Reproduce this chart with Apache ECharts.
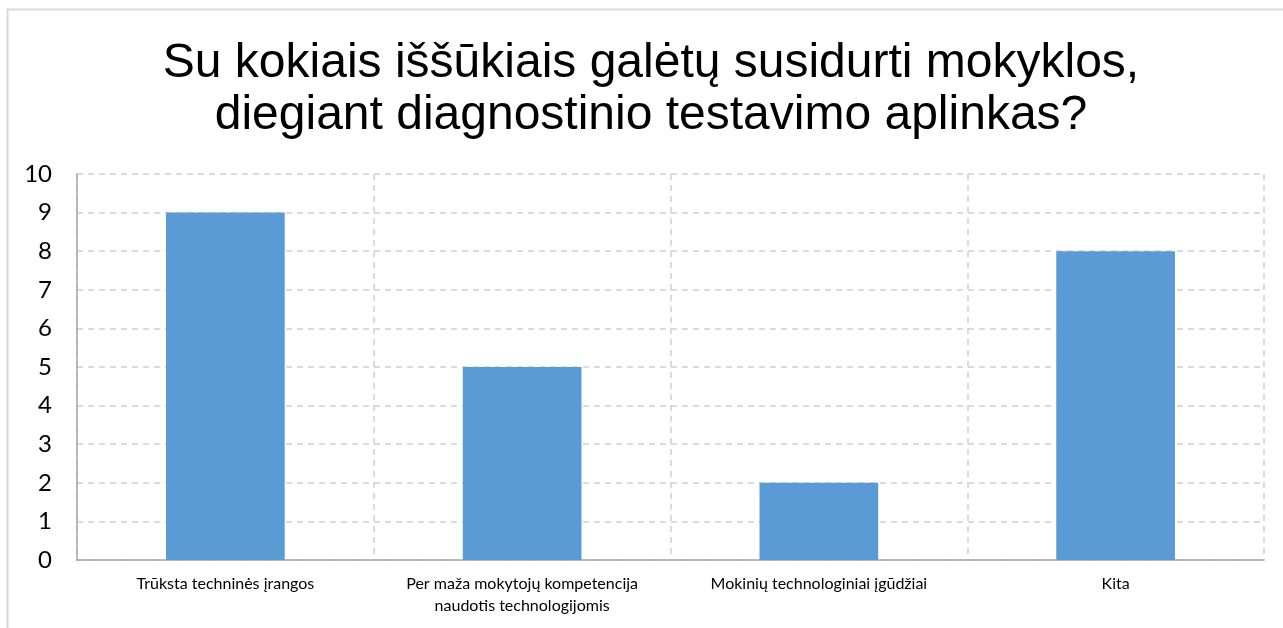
<!DOCTYPE html>
<html>
<head>
<meta charset="utf-8">
<script src="https://cdn.jsdelivr.net/npm/echarts@6/dist/echarts.min.js"></script>
<style>
  html, body { margin: 0; padding: 0; background: #fff; }
  #chart { width: 1283px; height: 628px; }
</style>
</head>
<body>
<div id="chart"></div>
<script>
const titleText = 'Su kokiais iššūkiais galėtų susidurti mokyklos,\ndiegiant diagnostinio testavimo aplinkas?';
const categories = [
  'Trūksta techninės įrangos',
  'Per maža mokytojų kompetencija\nnaudotis technologijomis',
  'Mokinių technologiniai įgūdžiai',
  'Kita'
];
const values = [9, 5, 2, 8];

const chart = echarts.init(document.getElementById('chart'));

chart.setOption({
  animation: false,
  graphic: [
    {
      type: 'rect',
      shape: { x: 7.5, y: 9.5, width: 1400, height: 800 },
      style: { fill: 'none', stroke: '#d9d9d9', lineWidth: 2 }
    },
    {
      type: 'text',
      x: 651,
      y: 38,
      style: {
        text: titleText,
        fontFamily: 'Liberation Sans, Arial, sans-serif',
        fontSize: 48,
        lineHeight: 52,
        fill: '#000',
        textAlign: 'center'
      }
    }
  ],
  grid: {
    left: 77,
    right: 19,
    top: 174,
    bottom: 68
  },
  xAxis: {
    type: 'category',
    data: categories,
    axisTick: { show: false },
    axisLine: { lineStyle: { color: '#a6a6a6', width: 1.5 } },
    axisLabel: {
      interval: 0,
      hideOverlap: false,
      color: '#000',
      fontFamily: 'Lato, sans-serif',
      fontSize: 16,
      lineHeight: 22,
      margin: 13
    },
    splitLine: {
      show: true,
      interval: 0,
      lineStyle: { color: '#d0d0d0', width: 1.5, type: [6, 5] }
    }
  },
  yAxis: {
    type: 'value',
    min: 0,
    max: 10,
    interval: 1,
    axisLine: { show: true, lineStyle: { color: '#a6a6a6', width: 1.5 } },
    axisTick: { show: false },
    axisLabel: {
      color: '#000',
      fontFamily: 'Lato, sans-serif',
      fontSize: 24,
      margin: 25
    },
    splitLine: {
      show: true,
      lineStyle: { color: '#d0d0d0', width: 1.5, type: [6, 5] }
    }
  },
  series: [
    {
      type: 'bar',
      data: values,
      barWidth: '40%',
      itemStyle: { color: '#5b9bd5' }
    }
  ]
});
</script>
</body>
</html>
